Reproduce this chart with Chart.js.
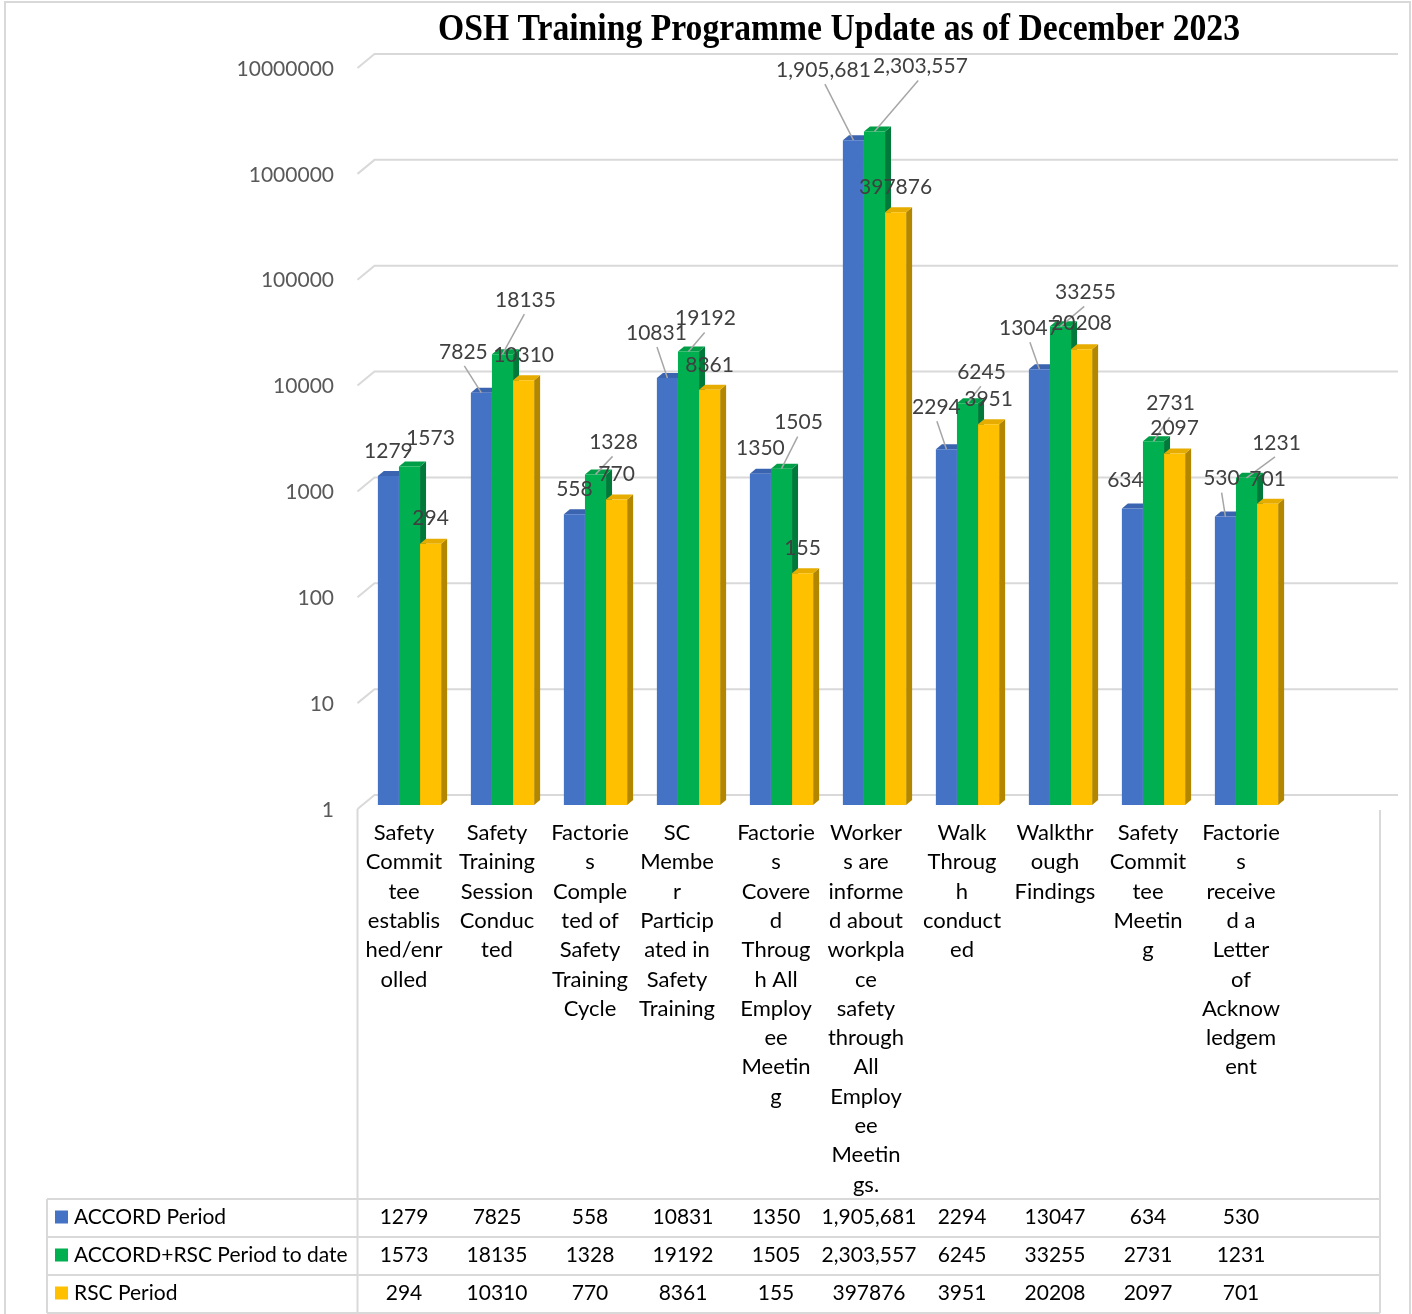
<!DOCTYPE html>
<html>
<head>
<meta charset="utf-8">
<script src="https://cdn.jsdelivr.net/npm/chart.js@4.4.1/dist/chart.umd.min.js"></script>
<style>
  html, body { margin: 0; padding: 0; background: #ffffff; }
  #wrap { width: 1412px; height: 1314px; }
</style>
</head>
<body>
<div id="wrap"><canvas id="c" width="1412" height="1314"></canvas></div>
<script>
// ---------------- DATA ----------------
const chartTitle = 'OSH Training Programme Update as of December 2023';

const categoryLines = [
  ['Safety', 'Commit', 'tee', 'establis', 'hed/enr', 'olled'],
  ['Safety', 'Training', 'Session', 'Conduc', 'ted'],
  ['Factorie', 's', 'Comple', 'ted of', 'Safety', 'Training', 'Cycle'],
  ['SC', 'Membe', 'r', 'Particip', 'ated in', 'Safety', 'Training'],
  ['Factorie', 's', 'Covere', 'd', 'Throug', 'h All', 'Employ', 'ee', 'Meetin', 'g'],
  ['Worker', 's are', 'informe', 'd about', 'workpla', 'ce', 'safety', 'through', 'All', 'Employ', 'ee', 'Meetin', 'gs.'],
  ['Walk', 'Throug', 'h', 'conduct', 'ed'],
  ['Walkthr', 'ough', 'Findings'],
  ['Safety', 'Commit', 'tee', 'Meetin', 'g'],
  ['Factorie', 's', 'receive', 'd a', 'Letter', 'of', 'Acknow', 'ledgem', 'ent']
];

const seriesNames = ['ACCORD Period', 'ACCORD+RSC Period to date', 'RSC Period'];
const accordPeriod    = [1279, 7825, 558, 10831, 1350, 1905681, 2294, 13047, 634, 530];
const accordRscToDate = [1573, 18135, 1328, 19192, 1505, 2303557, 6245, 33255, 2731, 1231];
const rscPeriod       = [294, 10310, 770, 8361, 155, 397876, 3951, 20208, 2097, 701];

const yTicks = [1, 10, 100, 1000, 10000, 100000, 1000000, 10000000];

// ---------------- STYLE / LAYOUT ----------------
const FONT = 'Lato, "Open Sans", sans-serif';
const seriesColors = ['#4472C4', '#00B050', '#FFC000'];
const topColors    = ['#3A63B0', '#009E47', '#E6AC00'];
const sideColors   = ['#2D4F8E', '#00793A', '#B38600'];
const DEPTH_X = 6, DEPTH_Y = 5;

// label nudges [dx, dy, leaderLine] relative to bar top centre (layout only)
const labelNudge = [
  [[0,-25,0],[-18,-41,1],[0,-25,0],[-11,-45,1],[0,-25,0],[-30,-70,1],[-10,-42,1],[-10,-41,1],[-7,-28,0],[-4,-38,1]],
  [[21,-28,0],[23,-54,1],[18,-32,1],[17,-33,1],[17,-46,1],[46,-65,1],[14,-31,1],[25,-34,1],[17,-38,1],[30,-35,1]],
  [[0,-25,0],[0,-25,0],[0,-25,0],[0,-25,0],[0,-25,0],[0,-25,0],[0,-25,0],[0,-26,0],[0,-25,0],[0,-25,0]]
];
// small horizontal nudges of wrapped category text (layout only)
const catLabelDx = [0, 0, 0, -6, 0, -3, 0, 0, 0, 0];

function fmt(v) {
  return v >= 1000000 ? v.toLocaleString('en-US') : String(v);
}

const allSeries = [accordPeriod, accordRscToDate, rscPeriod];

// ---------------- PLUGIN ----------------
const decorPlugin = {
  id: 'decor',
  beforeDatasetsDraw(chart) {
    const ctx = chart.ctx;
    const ca = chart.chartArea;
    const y = chart.scales.y;
    const frontLeft = ca.left - 5.5;
    const backLeft = frontLeft + 17;
    const backRight = ca.right + 105;
    ctx.save();
    ctx.strokeStyle = '#D9D9D9';
    ctx.lineWidth = 2;
    yTicks.forEach(v => {
      const p = y.getPixelForValue(v);
      ctx.beginPath();
      ctx.moveTo(frontLeft, p + 4);
      ctx.lineTo(backLeft, p - 10);
      ctx.lineTo(backRight, p - 10);
      ctx.stroke();
    });
    chart.data.datasets.forEach((ds, di) => {
      const meta = chart.getDatasetMeta(di);
      meta.data.forEach(el => {
        const w = el.width;
        const l = el.x - w / 2, r = el.x + w / 2;
        const t = el.y, b = el.base;
        ctx.fillStyle = sideColors[di];
        ctx.beginPath();
        ctx.moveTo(r, t);
        ctx.lineTo(r + DEPTH_X, t - DEPTH_Y);
        ctx.lineTo(r + DEPTH_X, b - DEPTH_Y);
        ctx.lineTo(r, b);
        ctx.closePath();
        ctx.fill();
        ctx.fillStyle = topColors[di];
        ctx.beginPath();
        ctx.moveTo(l, t);
        ctx.lineTo(r, t);
        ctx.lineTo(r + DEPTH_X, t - DEPTH_Y);
        ctx.lineTo(l + DEPTH_X, t - DEPTH_Y);
        ctx.closePath();
        ctx.fill();
      });
    });
    ctx.restore();
  },
  afterDatasetsDraw(chart) {
    const ctx = chart.ctx;
    ctx.save();
    ctx.strokeStyle = '#A6A6A6';
    ctx.lineWidth = 1.5;
    chart.data.datasets.forEach((ds, di) => {
      const meta = chart.getDatasetMeta(di);
      meta.data.forEach((el, i) => {
        const n = labelNudge[di][i];
        if (!n[2]) return;
        const lx = el.x + n[0], ly = el.y + n[1];
        ctx.beginPath();
        ctx.moveTo(lx + (el.x - lx) * 0.05, ly + 14);
        ctx.lineTo(el.x, el.y);
        ctx.stroke();
      });
    });
    ctx.fillStyle = '#404040';
    ctx.font = '21px ' + FONT;
    ctx.textAlign = 'center';
    ctx.textBaseline = 'middle';
    chart.data.datasets.forEach((ds, di) => {
      const meta = chart.getDatasetMeta(di);
      meta.data.forEach((el, i) => {
        const n = labelNudge[di][i];
        ctx.fillText(fmt(ds.data[i]), el.x + n[0], el.y + n[1]);
      });
    });
    ctx.restore();
  },
  afterDraw(chart) {
    const ctx = chart.ctx;
    const ca = chart.chartArea;
    const x = chart.scales.x;
    const frontLeft = ca.left - 5.5;
    const tableRight = ca.right + 87;
    const tableLeft = 47;
    const rowTops = [1199, 1237, 1275, 1313];
    ctx.save();

    ctx.strokeStyle = '#D9D9D9';
    ctx.lineWidth = 2;
    ctx.strokeRect(5, 2, 1405, 1320);

    ctx.fillStyle = '#000000';
    ctx.font = 'bold 38px "Liberation Serif", serif';
    const tw = ctx.measureText(chartTitle).width;
    ctx.save();
    ctx.translate(839, 40);
    ctx.scale(802 / tw, 1);
    ctx.textAlign = 'center';
    ctx.textBaseline = 'alphabetic';
    ctx.fillText(chartTitle, 0, 0);
    ctx.restore();

    ctx.strokeStyle = '#D9D9D9';
    ctx.lineWidth = 2;
    ctx.beginPath();
    ctx.moveTo(frontLeft, ca.bottom + 4);
    ctx.lineTo(frontLeft, rowTops[3]);
    ctx.moveTo(tableRight, ca.bottom + 5);
    ctx.lineTo(tableRight, rowTops[3]);
    ctx.moveTo(tableLeft, rowTops[0]);
    ctx.lineTo(tableLeft, rowTops[3]);
    rowTops.forEach(ty => {
      ctx.moveTo(tableLeft, ty);
      ctx.lineTo(tableRight, ty);
    });
    ctx.stroke();

    ctx.fillStyle = '#000000';
    ctx.font = '22px ' + FONT;
    ctx.textAlign = 'center';
    ctx.textBaseline = 'middle';
    categoryLines.forEach((lines, i) => {
      const cx = x.getPixelForValue(i) - 5.5 + catLabelDx[i];
      lines.forEach((ln, k) => {
        ctx.fillText(ln, cx, ca.bottom + 28 + k * 29.3);
      });
    });

    ctx.font = '21px ' + FONT;
    allSeries.forEach((vals, r) => {
      const cy = (rowTops[r] + rowTops[r + 1]) / 2 - 1;
      ctx.fillStyle = seriesColors[r];
      ctx.fillRect(55, cy - 6.5, 13, 13);
      ctx.fillStyle = '#000000';
      ctx.textAlign = 'left';
      ctx.fillText(seriesNames[r], 74, cy);
      ctx.textAlign = 'center';
      vals.forEach((v, i) => {
        ctx.fillText(fmt(v), x.getPixelForValue(i) - 5.5, cy);
      });
    });
    ctx.restore();
  }
};

// ---------------- CHART ----------------
new Chart(document.getElementById('c'), {
  type: 'bar',
  data: {
    labels: categoryLines.map(l => l.join(' ')),
    datasets: seriesNames.map((name, i) => ({
      label: name,
      data: allSeries[i],
      backgroundColor: seriesColors[i],
      borderWidth: 0,
      categoryPercentage: 0.68,
      barPercentage: 1.0
    }))
  },
  options: {
    responsive: false,
    devicePixelRatio: 1,
    animation: false,
    layout: { padding: { top: 64, bottom: 509, left: 0, right: 119 } },
    plugins: {
      legend: { display: false },
      title: { display: false },
      tooltip: { enabled: false }
    },
    scales: {
      x: { display: false },
      y: {
        type: 'logarithmic',
        min: 1,
        max: 10000000,
        afterFit(scale) { scale.width = 363; },
        afterBuildTicks(scale) { scale.ticks = yTicks.map(v => ({ value: v })); },
        grid: { display: false, drawTicks: false },
        border: { display: false },
        ticks: {
          autoSkip: false,
          padding: 29,
          labelOffset: 5,
          color: '#595959',
          font: { family: FONT, size: 21 },
          callback: (v) => String(v)
        }
      }
    }
  },
  plugins: [decorPlugin]
});
</script>
</body>
</html>
